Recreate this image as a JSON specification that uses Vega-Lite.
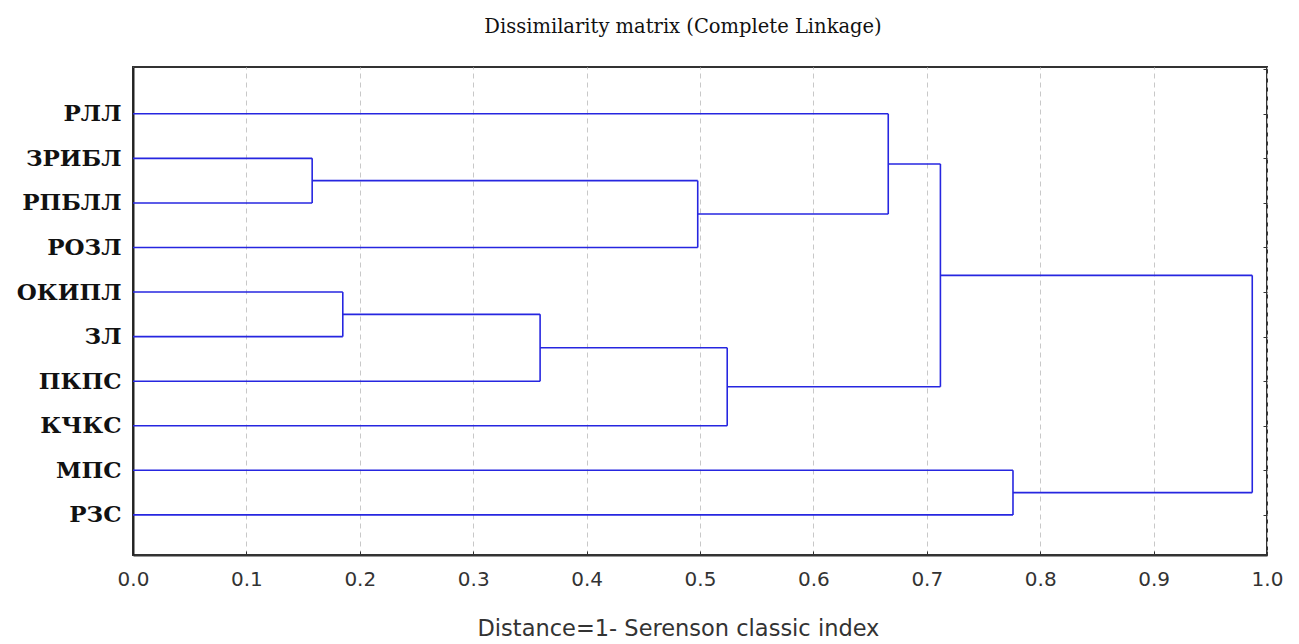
{
  "$schema": "https://vega.github.io/schema/vega-lite/v6.json",
  "width": 1134,
  "height": 488,
  "autosize": {"type": "none"},
  "padding": {"left": 133, "top": 67, "right": 32, "bottom": 89},
  "background": "white",
  "title": {
    "text": "Dissimilarity matrix (Complete Linkage)",
    "font": "DejaVu Serif",
    "fontSize": 19.5,
    "fontWeight": "normal",
    "color": "#111",
    "anchor": "middle",
    "dx": -17,
    "offset": 30
  },
  "config": {
    "view": {"stroke": "#333", "strokeWidth": 2}
  },
  "datasets": {
    "merges": [
      {"h": 0.158, "ya": 2, "ha": 0, "yb": 3, "hb": 0},
      {"h": 0.185, "ya": 5, "ha": 0, "yb": 6, "hb": 0},
      {"h": 0.359, "ya": 5.5, "ha": 0.185, "yb": 7, "hb": 0},
      {"h": 0.498, "ya": 2.5, "ha": 0.158, "yb": 4, "hb": 0},
      {"h": 0.524, "ya": 6.25, "ha": 0.359, "yb": 8, "hb": 0},
      {"h": 0.666, "ya": 1, "ha": 0, "yb": 3.25, "hb": 0.498},
      {"h": 0.712, "ya": 2.125, "ha": 0.666, "yb": 7.125, "hb": 0.524},
      {"h": 0.776, "ya": 9, "ha": 0, "yb": 10, "hb": 0},
      {"h": 0.987, "ya": 4.625, "ha": 0.712, "yb": 9.5, "hb": 0.776}
    ]
  },
  "data": {"name": "merges"},
  "resolve": {"axis": {"y": "independent"}},
  "layer": [
    {
      "mark": {"type": "rule", "color": "#2626e0", "strokeWidth": 1.6},
      "encoding": {
        "x": {
          "field": "h", "type": "quantitative",
          "scale": {"domain": [0, 1], "nice": false, "zero": false},
          "axis": {
            "values": [0, 0.1, 0.2, 0.3, 0.4, 0.5, 0.6, 0.7, 0.8, 0.9, 1.0],
            "format": ".1f",
            "title": "Distance=1- Serenson classic index",
            "titleFont": "DejaVu Sans",
            "titleFontSize": 22.5,
            "titleFontWeight": "normal",
            "titleColor": "#333",
            "titlePadding": 28,
            "titleX": 545,
            "titleAlign": "center",
            "labelFont": "DejaVu Sans",
            "labelFontSize": 20,
            "labelColor": "#333",
            "labelPadding": 18,
            "labelFlush": false,
            "tickSize": -4,
            "tickColor": "#333",
            "domainColor": "#333",
            "domainWidth": 2,
            "grid": true,
            "gridColor": "#c8c8c8",
            "gridDash": [5, 4],
            "gridWidth": 1
          }
        },
        "y": {
          "field": "ya", "type": "quantitative",
          "scale": {"domain": [-0.05, 10.9], "reverse": true, "nice": false, "zero": false},
          "axis": {
            "orient": "left",
            "values": [1, 2, 3, 4, 5, 6, 7, 8, 9, 10],
            "labelExpr": "['', 'РЛЛ', 'ЗРИБЛ', 'РПБЛЛ', 'РОЗЛ', 'ОКИПЛ', 'ЗЛ', 'ПКПС', 'КЧКС', 'МПС', 'РЗС'][datum.value]",
            "labelFont": "DejaVu Serif",
            "labelFontWeight": "bold",
            "labelFontSize": 23,
            "labelColor": "#111",
            "labelPadding": 12,
            "ticks": false,
            "grid": false,
            "title": null,
            "domainColor": "#222",
            "domainWidth": 2
          }
        },
        "y2": {"field": "yb"}
      }
    },
    {
      "mark": {"type": "rule", "color": "#2626e0", "strokeWidth": 1.6},
      "encoding": {
        "x": {"field": "ha", "type": "quantitative"},
        "x2": {"field": "h"},
        "y": {
          "field": "ya", "type": "quantitative",
          "axis": {
            "orient": "right",
            "values": [0, 1, 2, 3, 4, 5, 6, 7, 8, 9, 10],
            "labels": false,
            "tickSize": -4,
            "tickColor": "#333",
            "domain": false,
            "grid": false,
            "title": null
          }
        }
      }
    },
    {
      "mark": {"type": "rule", "color": "#2626e0", "strokeWidth": 1.6},
      "encoding": {
        "x": {"field": "hb", "type": "quantitative"},
        "x2": {"field": "h"},
        "y": {"field": "yb", "type": "quantitative", "axis": null}
      }
    }
  ]
}
